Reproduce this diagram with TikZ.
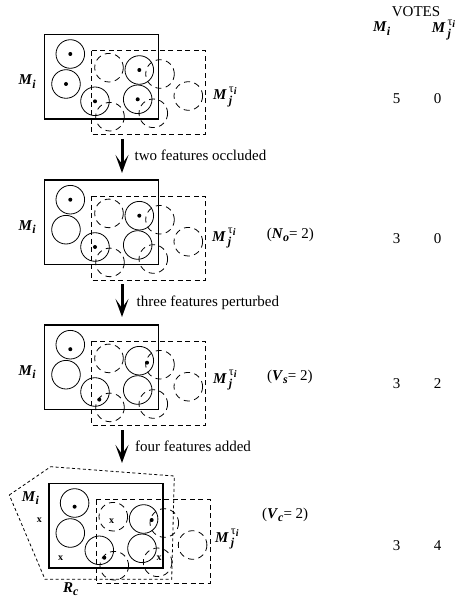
\documentclass[tikz,border=0pt]{standalone}
\usepackage{fontspec}
\setmainfont{Liberation Serif}
\usetikzlibrary{arrows.meta}
\newcommand{\bi}[1]{\textbf{\textit{#1}}}
\newcommand{\subsz}{\fontsize{12}{13}\selectfont}
\newcommand{\Mi}{\bi{M}\raisebox{-0.45ex}{\subsz\bi{i}}}
\newcommand{\Mj}{\bi{M}\rlap{\raisebox{-0.6ex}{\subsz\,\bi{j}}}\raisebox{1.05ex}{\subsz\,τ\raisebox{-0.35ex}{\fontsize{10}{11}\selectfont\bi{i}}}}
\newcommand{\Rc}{\bi{R}\raisebox{-0.45ex}{\subsz\bi{c}}}
\tikzset{
  mrect/.style={line width=1.5pt},
  jrect/.style={line width=0.8pt, dash pattern=on 5pt off 3.5pt},
  feat/.style={line width=0.8pt},
  jfeat/.style={line width=0.8pt, dash pattern=on 6pt off 4.5pt},
  region/.style={line width=0.8pt, dash pattern=on 3pt off 2.5pt},
  bigarrow/.style={line width=3pt, -{Stealth[length=18pt,width=13pt,inset=9pt]}},
  lab/.style={inner sep=0pt, anchor=base west},
  num/.style={inner sep=0pt, anchor=base},
  xmark/.style={inner sep=0pt, font=\fontsize{10}{11}\selectfont\bfseries}
}
\newcommand{\basepanel}{%
  \draw[mrect] (44.7,34.3) rectangle (158.7,119);
  \draw[jrect] (91.7,50.7) rectangle (205.7,134.7);
  \foreach \p in {(70.3,54),(66,84),(95,101.3),(139.3,70),(137.7,99.3)}
    \draw[feat] \p circle (14.3);
  \foreach \p in {(109,67.7),(110,116.7),(160,74),(188.3,96),(153.3,113.3)}
    \draw[jfeat] \p circle (14.3);
}
\begin{document}
\begin{tikzpicture}[x=1pt,y=-1pt,font=\fontsize{15}{18}\selectfont]
\useasboundingbox (0,0) rectangle (461,601);
% panel 1
\begin{scope}
  \basepanel
  \foreach \p in {(70.3,54),(66,84),(95,101.3),(139.3,70),(137.7,99.3)}
    \fill \p circle (2);
\end{scope}
% panel 2
\begin{scope}[shift={(0,145.7)}]
  \basepanel
  \foreach \p in {(70.3,54),(95,101.3),(139.3,70)}
    \fill \p circle (2);
\end{scope}
% panel 3
\begin{scope}[shift={(0,290.7)}]
  \basepanel
  \foreach \p in {(70.3,58.5),(99.3,108.9),(147,72)}
    \fill \p circle (2);
\end{scope}
% panel 4
\begin{scope}[shift={(4.3,449)}]
  \basepanel
  \foreach \p in {(70.3,57.7),(100,108.7),(147.4,71)}
    \fill \p circle (2);
\end{scope}
\draw[region] (9.3,495) -- (50.7,466.7) -- (174.3,476) -- (171.7,579.3) -- (45,579.3) -- cycle;
\node[xmark] (x1) at (39.3,520) {x};
\node[xmark] (x2) at (60.7,558.3) {x};
\node[xmark] (x3) at (111.7,520.7) {x};
\node[xmark] (x4) at (159,558.3) {x};
\node[lab] (rc) at (63,592) {\Rc};
% model labels
\node[lab] (mi1) at (18.3,85) {\Mi};
\node[lab] (mi2) at (18.3,230.5) {\Mi};
\node[lab] (mi3) at (18.3,375.5) {\Mi};
\node[lab] (mi4) at (21.7,501.5) {\Mi};
\node[lab] (mj1) at (213,100) {\Mj};
\node[lab] (mj2) at (212,241) {\Mj};
\node[lab] (mj3) at (213,383) {\Mj};
\node[lab] (mj4) at (215,542) {\Mj};
% conditions
\node[lab] (no) at (266.7,238) {(\bi{N}\raisebox{-0.45ex}{\subsz\bi{o}}= 2)};
\node[lab] (vs) at (267,380) {(\bi{V}\raisebox{-0.45ex}{\subsz\bi{s}}= 2)};
\node[lab] (vc) at (262,518) {(\bi{V}\raisebox{-0.45ex}{\subsz\bi{c}}= 2)};
% arrows
\coordinate (a1s) at (122,139);
\coordinate (a1e) at (122,173);
\coordinate (a2s) at (122,284);
\coordinate (a2e) at (122,317);
\coordinate (a3s) at (122,430);
\coordinate (a3e) at (122,463);
\draw[bigarrow] (a1s) -- (a1e);
\draw[bigarrow] (a2s) -- (a2e);
\draw[bigarrow] (a3s) -- (a3e);
\node[lab] (t1) at (134.5,160.5) {two features occluded};
\node[lab] (t2) at (136.5,306) {three features perturbed};
\node[lab] (t3) at (135,451.5) {four features added};
% votes table
\node[num] (votes) at (416,17) {VOTES};
\node[lab] (hmi) at (373,32) {\Mi};
\node[lab] (hmj) at (431.7,33) {\Mj};
\node[num] (v11) at (396.7,103.5) {5};
\node[num] (v12) at (437.7,103.5) {0};
\node[num] (v21) at (396.7,243.5) {3};
\node[num] (v22) at (437.7,243.5) {0};
\node[num] (v31) at (396.7,388) {3};
\node[num] (v32) at (437.7,388) {2};
\node[num] (v41) at (396.7,550) {3};
\node[num] (v42) at (437.7,550) {4};
\end{tikzpicture}
\end{document}
